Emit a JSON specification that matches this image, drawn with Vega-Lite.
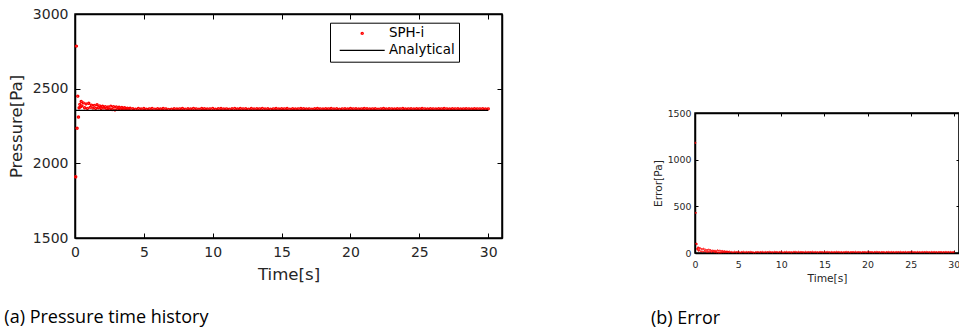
{
  "$schema": "https://vega.github.io/schema/vega-lite/v6.json",
  "background": "white",
  "padding": {"left": 3, "top": 6, "right": 0, "bottom": 0},
  "datasets": {
    "sph": [
      {"t":0.05,"p":1910,"e":1180},{"t":0.1,"p":2785,"e":430},{"t":0.15,"p":2235,"e":100},{"t":0.2,"p":2450,"e":95},{"t":0.25,"p":2310,"e":45},
      {"t":0.3,"p":2372,"e":40},{"t":0.35,"p":2395,"e":60},{"t":0.4,"p":2378,"e":25},{"t":0.45,"p":2415,"e":55},{"t":0.5,"p":2385,"e":30},
      {"t":0.6,"p":2405,"e":50},{"t":0.7,"p":2372,"e":18},{"t":0.8,"p":2398,"e":42},{"t":0.9,"p":2368,"e":15},{"t":1.0,"p":2402,"e":45},
      {"t":1.1,"p":2375,"e":20},{"t":1.2,"p":2390,"e":35},{"t":1.3,"p":2370,"e":14},{"t":1.4,"p":2388,"e":32},{"t":1.5,"p":2368,"e":12},
      {"t":1.6,"p":2392,"e":36},{"t":1.7,"p":2372,"e":16},{"t":1.8,"p":2385,"e":30},{"t":1.9,"p":2367,"e":12},{"t":2.0,"p":2382,"e":26},
      {"t":2.1,"p":2370,"e":15},{"t":2.2,"p":2380,"e":25},{"t":2.3,"p":2366,"e":11},{"t":2.4,"p":2378,"e":22},{"t":2.5,"p":2362,"e":9},
      {"t":2.6,"p":2383,"e":28},{"t":2.7,"p":2360,"e":6},{"t":2.8,"p":2380,"e":25},{"t":2.9,"p":2358,"e":5},{"t":3.0,"p":2378,"e":23},
      {"t":3.1,"p":2362,"e":8},{"t":3.2,"p":2376,"e":21},{"t":3.3,"p":2364,"e":10},{"t":3.4,"p":2374,"e":19},{"t":3.5,"p":2365,"e":10},
      {"t":3.6,"p":2372,"e":17},{"t":3.7,"p":2366,"e":11},{"t":3.8,"p":2370,"e":15},{"t":3.9,"p":2365,"e":10},{"t":4.0,"p":2369,"e":14},
      {"t":4.2,"p":2366,"e":11},{"t":4.4,"p":2363,"e":8},{"t":4.6,"p":2368,"e":13},{"t":4.8,"p":2364,"e":9},{"t":5.0,"p":2367,"e":12},
      {"t":5.2,"p":2362,"e":7},{"t":5.4,"p":2365,"e":10},{"t":5.6,"p":2368,"e":13},{"t":5.8,"p":2363,"e":8},{"t":6.0,"p":2366,"e":11},
      {"t":6.2,"p":2364,"e":9},{"t":6.4,"p":2367,"e":12},{"t":6.6,"p":2365,"e":10},{"t":6.8,"p":2361,"e":6},{"t":7.0,"p":2363,"e":8},
      {"t":7.2,"p":2366,"e":11},{"t":7.4,"p":2364,"e":9},{"t":7.6,"p":2365,"e":10},{"t":7.8,"p":2367,"e":12},{"t":8.0,"p":2363,"e":8},
      {"t":8.2,"p":2366,"e":11},{"t":8.4,"p":2364,"e":9},{"t":8.6,"p":2368,"e":13},{"t":8.8,"p":2365,"e":10},{"t":9.0,"p":2363,"e":8},
      {"t":9.2,"p":2367,"e":12},{"t":9.4,"p":2366,"e":11},{"t":9.6,"p":2364,"e":9},{"t":9.8,"p":2365,"e":10},{"t":10.0,"p":2368,"e":13},
      {"t":10.2,"p":2362,"e":7},{"t":10.4,"p":2366,"e":11},{"t":10.6,"p":2367,"e":12},{"t":10.8,"p":2364,"e":9},{"t":11.0,"p":2365,"e":10},
      {"t":11.2,"p":2363,"e":8},{"t":11.4,"p":2366,"e":11},{"t":11.6,"p":2368,"e":13},{"t":11.8,"p":2364,"e":9},{"t":12.0,"p":2367,"e":12},
      {"t":12.2,"p":2365,"e":10},{"t":12.4,"p":2366,"e":11},{"t":12.6,"p":2363,"e":8},{"t":12.8,"p":2367,"e":12},{"t":13.0,"p":2364,"e":9},
      {"t":13.2,"p":2366,"e":11},{"t":13.4,"p":2365,"e":10},{"t":13.6,"p":2368,"e":13},{"t":13.8,"p":2364,"e":9},{"t":14.0,"p":2366,"e":11},
      {"t":14.2,"p":2363,"e":8},{"t":14.4,"p":2365,"e":10},{"t":14.6,"p":2367,"e":12},{"t":14.8,"p":2364,"e":9},{"t":15.0,"p":2366,"e":11},
      {"t":15.2,"p":2365,"e":10},{"t":15.4,"p":2367,"e":12},{"t":15.6,"p":2363,"e":8},{"t":15.8,"p":2366,"e":11},{"t":16.0,"p":2364,"e":9},
      {"t":16.2,"p":2365,"e":10},{"t":16.4,"p":2367,"e":12},{"t":16.6,"p":2366,"e":11},{"t":16.8,"p":2364,"e":9},{"t":17.0,"p":2365,"e":10},
      {"t":17.2,"p":2363,"e":8},{"t":17.4,"p":2366,"e":11},{"t":17.6,"p":2367,"e":12},{"t":17.8,"p":2365,"e":10},{"t":18.0,"p":2364,"e":9},
      {"t":18.2,"p":2366,"e":11},{"t":18.4,"p":2365,"e":10},{"t":18.6,"p":2367,"e":12},{"t":18.8,"p":2364,"e":9},{"t":19.0,"p":2366,"e":11},
      {"t":19.2,"p":2363,"e":8},{"t":19.4,"p":2365,"e":10},{"t":19.6,"p":2366,"e":11},{"t":19.8,"p":2364,"e":9},{"t":20.0,"p":2367,"e":12},
      {"t":20.2,"p":2365,"e":10},{"t":20.4,"p":2366,"e":11},{"t":20.6,"p":2364,"e":9},{"t":20.8,"p":2365,"e":10},{"t":21.0,"p":2367,"e":12},
      {"t":21.2,"p":2366,"e":11},{"t":21.4,"p":2364,"e":9},{"t":21.6,"p":2365,"e":10},{"t":21.8,"p":2366,"e":11},{"t":22.0,"p":2363,"e":8},
      {"t":22.2,"p":2365,"e":10},{"t":22.4,"p":2367,"e":12},{"t":22.6,"p":2364,"e":9},{"t":22.8,"p":2366,"e":11},{"t":23.0,"p":2365,"e":10},
      {"t":23.2,"p":2364,"e":9},{"t":23.4,"p":2366,"e":11},{"t":23.6,"p":2365,"e":10},{"t":23.8,"p":2367,"e":12},{"t":24.0,"p":2364,"e":9},
      {"t":24.2,"p":2365,"e":10},{"t":24.4,"p":2366,"e":11},{"t":24.6,"p":2364,"e":9},{"t":24.8,"p":2366,"e":11},{"t":25.0,"p":2365,"e":10},
      {"t":25.2,"p":2367,"e":12},{"t":25.4,"p":2365,"e":10},{"t":25.6,"p":2364,"e":9},{"t":25.8,"p":2366,"e":11},{"t":26.0,"p":2365,"e":10},
      {"t":26.2,"p":2364,"e":9},{"t":26.4,"p":2366,"e":11},{"t":26.6,"p":2365,"e":10},{"t":26.8,"p":2367,"e":12},{"t":27.0,"p":2365,"e":10},
      {"t":27.2,"p":2364,"e":9},{"t":27.4,"p":2366,"e":11},{"t":27.6,"p":2365,"e":10},{"t":27.8,"p":2366,"e":11},{"t":28.0,"p":2364,"e":9},
      {"t":28.2,"p":2365,"e":10},{"t":28.4,"p":2366,"e":11},{"t":28.6,"p":2365,"e":10},{"t":28.8,"p":2364,"e":9},{"t":29.0,"p":2366,"e":11},
      {"t":29.2,"p":2365,"e":10},{"t":29.4,"p":2365,"e":10},{"t":29.6,"p":2366,"e":11},{"t":29.8,"p":2364,"e":9},{"t":30.0,"p":2365,"e":10}
    ],
    "ana": [{"t": 0, "a": 2355}, {"t": 30, "a": 2355}]
  },
  "config": {
    "view": {"stroke": "black", "strokeWidth": 1.5},
    "axis": {
      "labelFont": "DejaVu Sans", "titleFont": "DejaVu Sans",
      "labelColor": "#262626", "titleColor": "#262626",
      "titleFontWeight": "normal", "domainColor": "black", "domainWidth": 1.5,
      "tickColor": "black", "tickWidth": 1, "grid": false,
      "labelFlush": false, "labelOverlap": false, "format": "d"
    },
    "title": {"font": "Open Sans", "fontSize": 18, "fontWeight": "normal", "color": "black"}
  },
  "spacing": 146,
  "hconcat": [
    {
      "width": 427,
      "height": 224,
      "title": {"text": "(a) Pressure time history", "orient": "bottom", "anchor": "start", "frame": "bounds", "offset": 25.5, "dx": -4},
      "layer": [
        {
          "data": {"name": "sph"},
          "mark": {"type": "point", "filled": false, "size": 4, "strokeWidth": 1.4, "opacity": 1},
          "encoding": {
            "x": {"field": "t", "type": "quantitative", "scale": {"domain": [0, 31], "nice": false, "zero": false},
                  "axis": {"values": [0, 5, 10, 15, 20, 25, 30], "title": "Time[s]", "labelFontSize": 14, "titleFontSize": 16.6, "tickSize": -5, "labelPadding": 12, "titlePadding": 7.5}},
            "y": {"field": "p", "type": "quantitative", "scale": {"domain": [1500, 3000], "nice": false, "zero": false},
                  "axis": {"values": [1500, 2000, 2500, 3000], "title": "Pressure[Pa]", "labelFontSize": 14, "titleFontSize": 16.6, "tickSize": -5, "labelPadding": 12, "titlePadding": 8}},
            "color": {"datum": "SPH-i", "type": "nominal", "scale": {"domain": ["SPH-i", "Analytical"], "range": ["#ff0000", "#000000"]},
                      "legend": {"title": null, "orient": "none", "legendX": 255, "legendY": 8.7, "strokeColor": "black", "fillColor": "white", "padding": 4, "symbolOffset": 21.5, "labelOffset": 20, "labelFont": "DejaVu Sans", "labelFontSize": 13.4, "labelColor": "black", "rowPadding": 2, "symbolSize": 4, "symbolStrokeWidth": 1.4}},
            "shape": {"datum": "SPH-i", "type": "nominal", "scale": {"domain": ["SPH-i", "Analytical"], "range": ["circle", "M-22.5,0H22.5"]},
                      "legend": {"title": null, "orient": "none", "legendX": 255, "legendY": 8.7, "strokeColor": "black", "fillColor": "white", "padding": 4, "symbolOffset": 21.5, "labelOffset": 20, "labelFont": "DejaVu Sans", "labelFontSize": 13.4, "labelColor": "black", "rowPadding": 2, "symbolSize": 4, "symbolStrokeWidth": 1.4}}
          }
        },
        {
          "data": {"name": "ana"},
          "mark": {"type": "line", "color": "black", "strokeWidth": 1.3},
          "encoding": {
            "x": {"field": "t", "type": "quantitative", "scale": {"domain": [0, 31], "nice": false, "zero": false},
                  "axis": {"orient": "top", "values": [0, 5, 10, 15, 20, 25, 30], "labels": false, "title": null, "tickSize": -5}},
            "y": {"field": "a", "type": "quantitative", "scale": {"domain": [1500, 3000], "nice": false, "zero": false},
                  "axis": {"orient": "right", "values": [1500, 2000, 2500, 3000], "labels": false, "title": null, "tickSize": -5}}
          }
        }
      ],
      "resolve": {"axis": {"x": "independent", "y": "independent"}}
    },
    {
      "spacing": 0,
      "vconcat": [
        {
          "width": 264,
          "height": 93,
          "view": {"stroke": null},
          "data": {"values": []},
          "mark": "point",
          "encoding": {}
        },
        {
          "width": 264,
          "height": 140,
          "title": {"text": "(b) Error", "orient": "bottom", "anchor": "start", "frame": "bounds", "offset": 26.5, "dx": -1.7},
          "layer": [
            {
              "data": {"name": "sph"},
              "mark": {"type": "point", "filled": false, "size": 1.5, "strokeWidth": 1, "color": "#ff0000", "opacity": 1},
              "encoding": {
                "x": {"field": "t", "type": "quantitative", "scale": {"domain": [0, 30.6], "nice": false, "zero": false},
                      "axis": {"values": [0, 5, 10, 15, 20, 25, 30], "title": "Time[s]", "labelFontSize": 9.4, "titleFontSize": 10.7, "tickSize": -3, "labelPadding": 10.5, "titlePadding": 4.5}},
                "y": {"field": "e", "type": "quantitative", "scale": {"domain": [0, 1500], "nice": false, "zero": false},
                      "axis": {"values": [0, 500, 1000, 1500], "title": "Error[Pa]", "labelFontSize": 9.4, "titleFontSize": 10.7, "tickSize": -3, "labelPadding": 7, "titlePadding": 3.5}}
              }
            },
            {
              "data": {"name": "sph"},
              "mark": {"type": "point", "opacity": 0},
              "encoding": {
                "x": {"field": "t", "type": "quantitative", "scale": {"domain": [0, 30.6], "nice": false, "zero": false},
                      "axis": {"orient": "top", "values": [0, 5, 10, 15, 20, 25, 30], "labels": false, "title": null, "tickSize": -3}},
                "y": {"field": "e", "type": "quantitative", "scale": {"domain": [0, 1500], "nice": false, "zero": false},
                      "axis": {"orient": "right", "values": [0, 500, 1000, 1500], "labels": false, "title": null, "tickSize": -3}}
              }
            }
          ],
          "resolve": {"axis": {"x": "independent", "y": "independent"}}
        }
      ]
    }
  ]
}
